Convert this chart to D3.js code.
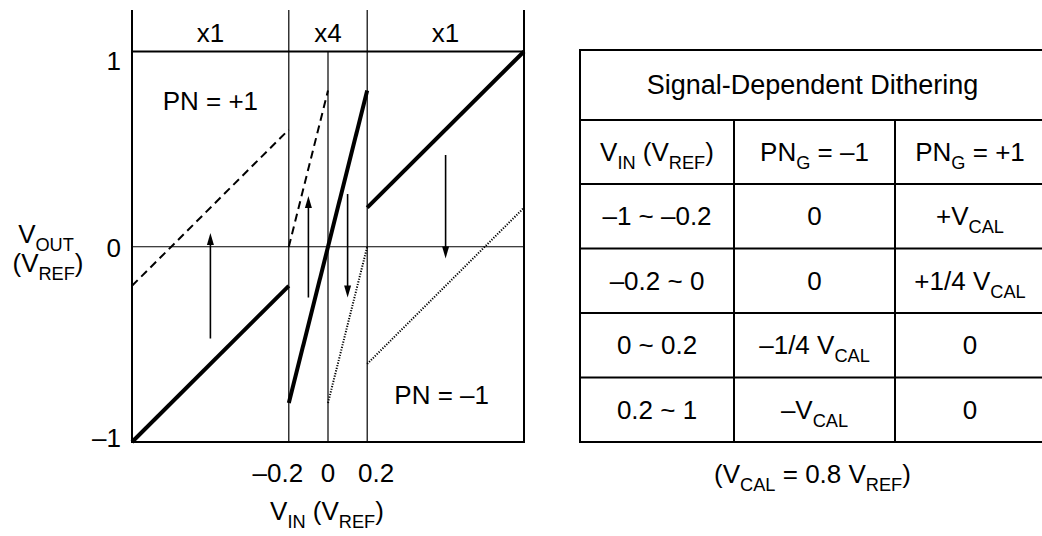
<!DOCTYPE html>
<html><head><meta charset="utf-8">
<script src="https://cdn.jsdelivr.net/npm/d3@7"></script>
<style>
html,body{margin:0;padding:0;background:#fff;}
text{font-family:"Liberation Sans",Arial,Helvetica,sans-serif;fill:#000;}
</style></head>
<body>
<svg id="c" width="1042" height="536"></svg>
<script>
// ---- data ----
const xDomain = [-1, 1];
const yDomain = [-1, 1];
const xTicks = [-0.2, 0, 0.2];
const xTickLabels = ["\u20130.2", "0", "0.2"];
const yTicks = [1, 0, -1];
const yTickLabels = ["1", "0", "\u20131"];
const regionBounds = [-1, -0.2, 0.2, 1];
const regionLabels = ["x1", "x4", "x1"];
const solidSegs = [[[-1, -1], [-0.2, -0.2]], [[-0.2, -0.8], [0.2, 0.8]], [[0.2, 0.2], [1, 1]]];
const dashedSegs = [[[-1, -0.2], [-0.2, 0.6]], [[-0.2, 0.0], [0, 0.8]]];
const dottedSegs = [[[0, -0.8], [0.2, 0.0]], [[0.2, -0.6], [1, 0.2]]];
const arrowX = [-0.6, -0.1, 0.1, 0.6];
const arrowFrom = [-0.47, -0.26, 0.27, 0.47];
const arrowTo = [0.07, 0.26, -0.26, -0.06];
const tableTitle = "Signal-Dependent Dithering";
const tableHeader = [[["V",""],["IN","s"],[" (V",""],["REF","s"],[")",""]],
                     [["PN",""],["G","s"],[" = \u20131",""]],
                     [["PN",""],["G","s"],[" = +1",""]]];
const tableCol1 = ["\u20131 ~ \u20130.2", "\u20130.2 ~ 0", "0 ~ 0.2", "0.2 ~ 1"];
const tableCol2 = [[["0",""]], [["0",""]], [["\u20131/4 V",""],["CAL","s"]], [["\u2013V",""],["CAL","s"]]];
const tableCol3 = [[["+V",""],["CAL","s"]], [["+1/4 V",""],["CAL","s"]], [["0",""]], [["0",""]]];
const tableNote = [["(V",""],["CAL","s"],[" = 0.8 V",""],["REF","s"],[")",""]];

// ---- layout ----
const svg = d3.select("#c");
const x = d3.scaleLinear().domain(xDomain).range([132, 524]);
const y = d3.scaleLinear().domain(yDomain).range([442, 51.5]);
const FS = 26;

function richText(g, parts, px, py, fs, anchor) {
  const t = g.append("text").attr("x", px).attr("y", py)
    .attr("font-size", fs).attr("text-anchor", anchor || "middle");
  let shifted = false;
  parts.forEach(([s, k]) => {
    const sp = t.append("tspan").text(s);
    if (k === "s") {
      sp.attr("font-size", fs * 0.7).attr("dy", shifted ? 0 : fs * 0.3);
      shifted = true;
    } else {
      sp.attr("dy", shifted ? -fs * 0.3 : 0);
      shifted = false;
    }
  });
  return t;
}

const plot = svg.append("g");
const line = d3.line().x(d => x(d[0])).y(d => y(d[1]));

// frame
plot.append("line").attr("x1", x(-1)).attr("x2", x(-1)).attr("y1", 10).attr("y2", y(-1)).attr("stroke", "#000").attr("stroke-width", 2);
plot.append("line").attr("x1", x(1)).attr("x2", x(1)).attr("y1", 10).attr("y2", y(-1)).attr("stroke", "#000").attr("stroke-width", 2);
plot.append("line").attr("x1", x(-1)).attr("x2", x(1)).attr("y1", y(1)).attr("y2", y(1)).attr("stroke", "#000").attr("stroke-width", 2);
plot.append("line").attr("x1", x(-1) - 1).attr("x2", x(1) + 1).attr("y1", y(-1)).attr("y2", y(-1)).attr("stroke", "#000").attr("stroke-width", 2);
// inner verticals
xTicks.forEach(v => {
  plot.append("line").attr("x1", x(v)).attr("x2", x(v))
    .attr("y1", v === 0 ? y(1) : 10).attr("y2", y(-1))
    .attr("stroke", "#000").attr("stroke-width", 1.2);
});
// zero line
plot.append("line").attr("x1", x(-1)).attr("x2", x(1)).attr("y1", y(0)).attr("y2", y(0)).attr("stroke", "#000").attr("stroke-width", 1.2);

// segments
solidSegs.forEach(s => plot.append("path").attr("d", line(s)).attr("fill", "none").attr("stroke", "#000").attr("stroke-width", 4));
dashedSegs.forEach(s => plot.append("path").attr("d", line(s)).attr("fill", "none").attr("stroke", "#000").attr("stroke-width", 2).attr("stroke-dasharray", "8,5"));
dottedSegs.forEach(s => plot.append("path").attr("d", line(s)).attr("fill", "none").attr("stroke", "#000").attr("stroke-width", 2).attr("stroke-dasharray", "1.2,1.5"));

// arrows
arrowX.forEach((v, i) => {
  const x0 = x(v), ya = y(arrowFrom[i]), yb = y(arrowTo[i]);
  const dir = yb < ya ? -1 : 1;
  const hl = 12, hw = 3.5;
  plot.append("line").attr("x1", x0).attr("x2", x0).attr("y1", ya).attr("y2", yb - dir * hl * 0.6)
    .attr("stroke", "#000").attr("stroke-width", 1.6);
  plot.append("path").attr("d", `M${x0},${yb} L${x0 - hw},${yb - dir * hl} L${x0 + hw},${yb - dir * hl} Z`).attr("fill", "#000");
});

// region labels
regionLabels.forEach((l, i) => {
  plot.append("text").attr("x", x((regionBounds[i] + regionBounds[i + 1]) / 2)).attr("y", 42)
    .attr("font-size", FS).attr("text-anchor", "middle").text(l);
});
// PN labels
plot.append("text").attr("x", x(-0.6)).attr("y", 110).attr("font-size", FS).attr("text-anchor", "middle").text("PN = +1");
plot.append("text").attr("x", x(0.58)).attr("y", 404).attr("font-size", FS).attr("text-anchor", "middle").text("PN = \u20131");

// y ticks
const yOff = [9, 1, -4];
yTicks.forEach((v, i) => {
  plot.append("text").attr("x", 121).attr("y", y(v) + yOff[i] + 9).attr("font-size", FS).attr("text-anchor", "end").text(yTickLabels[i]);
});
// x ticks
const xOff = [-11, 0, 9];
xTicks.forEach((v, i) => {
  plot.append("text").attr("x", x(v) + xOff[i]).attr("y", 482).attr("font-size", FS).attr("text-anchor", "middle").text(xTickLabels[i]);
});
// axis titles
richText(plot, [["V",""],["IN","s"],[" (V",""],["REF","s"],[")",""]], 327, 520, FS);
richText(plot, [["V",""],["OUT","s"]], 46, 243, FS);
richText(plot, [["(V",""],["REF","s"],[")",""]], 48, 272, FS);

// ---- table ----
const tb = svg.append("g");
const colX = [580, 734, 895, 1045];
const rowY = [50, 120, 184, 248.5, 313, 377.5, 442];
rowY.forEach(ry => tb.append("line").attr("x1", colX[0] - 1).attr("x2", colX[3]).attr("y1", ry).attr("y2", ry).attr("stroke", "#000").attr("stroke-width", 2));
tb.append("line").attr("x1", colX[0]).attr("x2", colX[0]).attr("y1", rowY[0]).attr("y2", rowY[6]).attr("stroke", "#000").attr("stroke-width", 2);
[1, 2].forEach(c => tb.append("line").attr("x1", colX[c]).attr("x2", colX[c]).attr("y1", rowY[1]).attr("y2", rowY[6]).attr("stroke", "#000").attr("stroke-width", 2));
tb.append("line").attr("x1", colX[3]).attr("x2", colX[3]).attr("y1", rowY[0]).attr("y2", rowY[6]).attr("stroke", "#000").attr("stroke-width", 2);

const cx = c => (colX[c] + colX[c + 1]) / 2;
const cy = r => (rowY[r] + rowY[r + 1]) / 2 + 9;
tb.append("text").attr("x", (colX[0] + colX[3]) / 2).attr("y", cy(0)).attr("font-size", FS + 1).attr("text-anchor", "middle").text(tableTitle);
tableHeader.forEach((h, c) => richText(tb, h, cx(c), cy(1), FS));
tableCol1.forEach((t, r) => tb.append("text").attr("x", cx(0)).attr("y", cy(r + 2)).attr("font-size", FS).attr("text-anchor", "middle").text(t));
tableCol2.forEach((t, r) => richText(tb, t, cx(1), cy(r + 2), FS));
tableCol3.forEach((t, r) => richText(tb, t, cx(2), cy(r + 2), FS));
richText(tb, tableNote, (colX[0] + colX[3]) / 2, 483, FS);
</script>
</body></html>
